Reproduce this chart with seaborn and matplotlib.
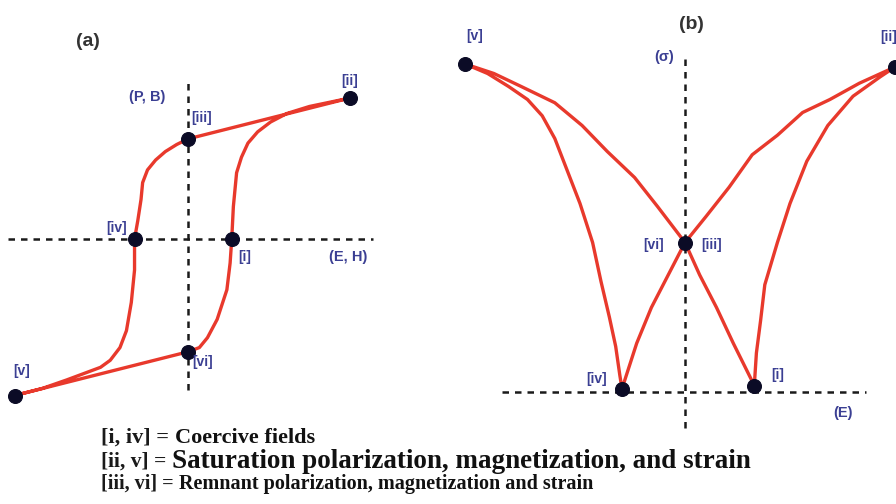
import matplotlib
matplotlib.use("Agg")
import matplotlib.pyplot as plt
import pandas as pd
import seaborn as sns

# ---------------- data ----------------
# (a) P-E / B-H hysteresis loop, normalised field and polarisation
# descending branch [ii] -> [iii] -> [iv] -> [v], then ascending [v] -> [vi] -> [i] -> [ii]
loop_a_field = [1.00, 0.00, -0.07, -0.14, -0.20, -0.25, -0.28, -0.29, -0.31, -0.33,
                -0.33, -0.35, -0.38, -0.42, -0.48, -0.54, -0.75, -0.90, -1.07,
                0.00, 0.07, 0.12, 0.18, 0.22, 0.24, 0.26, 0.27, 0.28, 0.30, 0.33,
                0.37, 0.43, 0.51, 0.61, 0.75, 1.00]
loop_a_pol = [1.00, 0.71, 0.67, 0.62, 0.56, 0.49, 0.40, 0.28, 0.13, 0.00,
              -0.22, -0.45, -0.65, -0.77, -0.86, -0.91, -1.00, -1.06, -1.11,
              -0.80, -0.77, -0.70, -0.57, -0.43, -0.36, -0.17, 0.00, 0.23, 0.47, 0.58,
              0.68, 0.76, 0.83, 0.89, 0.94, 1.00]
points_a_names = ["[ii]", "[iii]", "[iv]", "[i]", "[vi]", "[v]"]
points_a_field = [1.00, 0.00, -0.33, 0.27, 0.00, -1.07]
points_a_pol = [1.00, 0.71, 0.00, 0.00, -0.80, -1.11]

# (b) strain-field butterfly loop, path [i] -> [ii] -> [iii] -> [iv] -> [v] -> [vi] -> [i]
loop_b_field = [0.33, 0.34, 0.36, 0.38, 0.44, 0.50, 0.58, 0.68, 0.80, 0.93, 1.00,
                0.83, 0.69, 0.56, 0.44, 0.32, 0.21, 0.10, 0.00,
                -0.08, -0.16, -0.23, -0.30,
                -0.31, -0.33, -0.36, -0.40, -0.44, -0.50, -0.56, -0.62, -0.68, -0.75,
                -0.84, -0.94, -1.05,
                -0.91, -0.78, -0.62, -0.49, -0.37, -0.24, -0.13, 0.00,
                0.07, 0.15, 0.23, 0.33]
loop_b_strain = [0.02, 0.12, 0.22, 0.33, 0.46, 0.58, 0.71, 0.82, 0.91, 0.97, 1.00,
                 0.95, 0.90, 0.86, 0.79, 0.73, 0.63, 0.54, 0.46,
                 0.36, 0.26, 0.15, 0.01,
                 0.05, 0.14, 0.23, 0.34, 0.46, 0.58, 0.68, 0.78, 0.85, 0.90,
                 0.94, 0.98, 1.01,
                 0.98, 0.94, 0.89, 0.82, 0.74, 0.66, 0.57, 0.46,
                 0.36, 0.26, 0.15, 0.02]
points_b_field = [-1.05, 1.00, 0.00, -0.30, 0.33]
points_b_strain = [1.01, 1.00, 0.46, 0.01, 0.02]

legend_lines = [
    ("[i, iv] = ", "Coercive fields"),
    ("[ii, v] = ", "Saturation polarization, magnetization, and strain"),
    ("[iii, vi] = ", "Remnant polarization, magnetization and strain"),
]

# ---------------- style ----------------
RED = "#e8392c"
DOT = "#0b0b26"
LABEL = "#3b3f93"
W, H = 896, 504

sns.set_theme(style="white")
plt.rcParams["font.family"] = ["Liberation Sans", "DejaVu Sans"]

fig = plt.figure(figsize=(W / 100, H / 100), dpi=100)
fig.patch.set_facecolor("white")


def make_axes(box, origin, scale):
    """Axes covering pixel box (x0, y0, x1, y1) with data origin at pixel `origin`."""
    x0, y0, x1, y1 = box
    ox, oy = origin
    kx, ky = scale
    ax = fig.add_axes([x0 / W, 1 - y1 / H, (x1 - x0) / W, (y1 - y0) / H])
    ax.set_xlim((x0 - ox) / kx, (x1 - ox) / kx)
    ax.set_ylim((oy - y1) / ky, (oy - y0) / ky)
    ax.set_axis_off()
    return ax


def guide_axes(ax, xr, yr):
    kw = dict(color="#1a1a1a", lw=1.8, linestyle=(0, (2.6, 2.4)), zorder=1)
    ax.hlines(0, xr[0], xr[1], **kw)
    ax.vlines(0, yr[0], yr[1], **kw)


def label(ax, text, xy, dx, dy):
    ax.annotate(text, xy=xy, xytext=(dx * 0.72, dy * 0.72), textcoords="offset points",
                ha="center", va="center", color=LABEL, fontsize=10,
                fontweight="bold")


def loop(ax, x, y):
    df = pd.DataFrame({"x": x, "y": y})
    sns.lineplot(data=df, x="x", y="y", sort=False, estimator=None, color=RED,
                 lw=2.4, ax=ax, zorder=2, solid_joinstyle="round",
                 solid_capstyle="round")


def dots(ax, x, y):
    sns.scatterplot(x=x, y=y, color=DOT, s=100, edgecolor=DOT, ax=ax, zorder=3,
                    clip_on=False)


# ---------------- panel (a) ----------------
ax_a = make_axes((0, 0, 440, 420), (188, 239), (162, 141))
guide_axes(ax_a, (-1.11, 1.14), (-1.07, 1.11))
loop(ax_a, loop_a_field, loop_a_pol)
dots(ax_a, points_a_field, points_a_pol)
offsets_a = [(0, 17), (14, 21), (-18, 11), (13, -18), (15, -10), (7, 25)]
for name, ex, py, (dx, dy) in zip(points_a_names, points_a_field, points_a_pol, offsets_a):
    label(ax_a, name, (ex, py), dx, dy)
ax_a.text(-0.25, 1.01, "(P, B)", color=LABEL, fontsize=10.5, fontweight="bold",
          ha="center", va="center")
ax_a.text(0.99, -0.13, "(E, H)", color=LABEL, fontsize=10.5, fontweight="bold",
          ha="center", va="center")
ax_a.text(-0.62, 1.40, "(a)", color="#333333", fontsize=14, fontweight="bold",
          ha="center", va="center")

# ---------------- panel (b) ----------------
ax_b = make_axes((450, 0, 896, 432), (685, 392), (210, 325))
guide_axes(ax_b, (-0.87, 0.86), (-0.11, 1.03))
loop(ax_b, loop_b_field, loop_b_strain)
dots(ax_b, points_b_field, points_b_strain)
label(ax_b, "[v]", (points_b_field[0], points_b_strain[0]), 10, 28)
label(ax_b, "[ii]", (points_b_field[1], points_b_strain[1]), -6, 30)
label(ax_b, "[vi]", (points_b_field[2], points_b_strain[2]), -31, -2)
label(ax_b, "[iii]", (points_b_field[2], points_b_strain[2]), 27, -2)
label(ax_b, "[iv]", (points_b_field[3], points_b_strain[3]), -25, 10)
label(ax_b, "[i]", (points_b_field[4], points_b_strain[4]), 23, 10)
ax_b.text(-0.10, 1.03, "(\u03c3)", color=LABEL, fontsize=10.5, fontweight="bold",
          ha="center", va="center")
ax_b.text(0.75, -0.065, "(E)", color=LABEL, fontsize=10.5, fontweight="bold",
          ha="center", va="center")
ax_b.text(0.03, 1.13, "(b)", color="#333333", fontsize=14, fontweight="bold",
          ha="center", va="center")

# ---------------- key below the panels ----------------
renderer = fig.canvas.get_renderer()
rows_y = [438, 462, 484]
prefix_sizes = [16, 15.5, 14.5]
body_sizes = [16, 19.5, 14.5]
for (prefix, body), py, ps, bs in zip(legend_lines, rows_y, prefix_sizes, body_sizes):
    x = 101 / W
    y = 1 - py / H
    t = fig.text(x, y, prefix, family="Liberation Serif", fontsize=ps,
                 fontweight="bold", color="#1a1a1a", va="center", ha="left")
    x = t.get_window_extent(renderer).x1 / W
    fig.text(x, y, body, family="Liberation Serif", fontsize=bs, fontweight="bold",
             color="#111111", va="center", ha="left")

fig.savefig("out.png", dpi=100)
